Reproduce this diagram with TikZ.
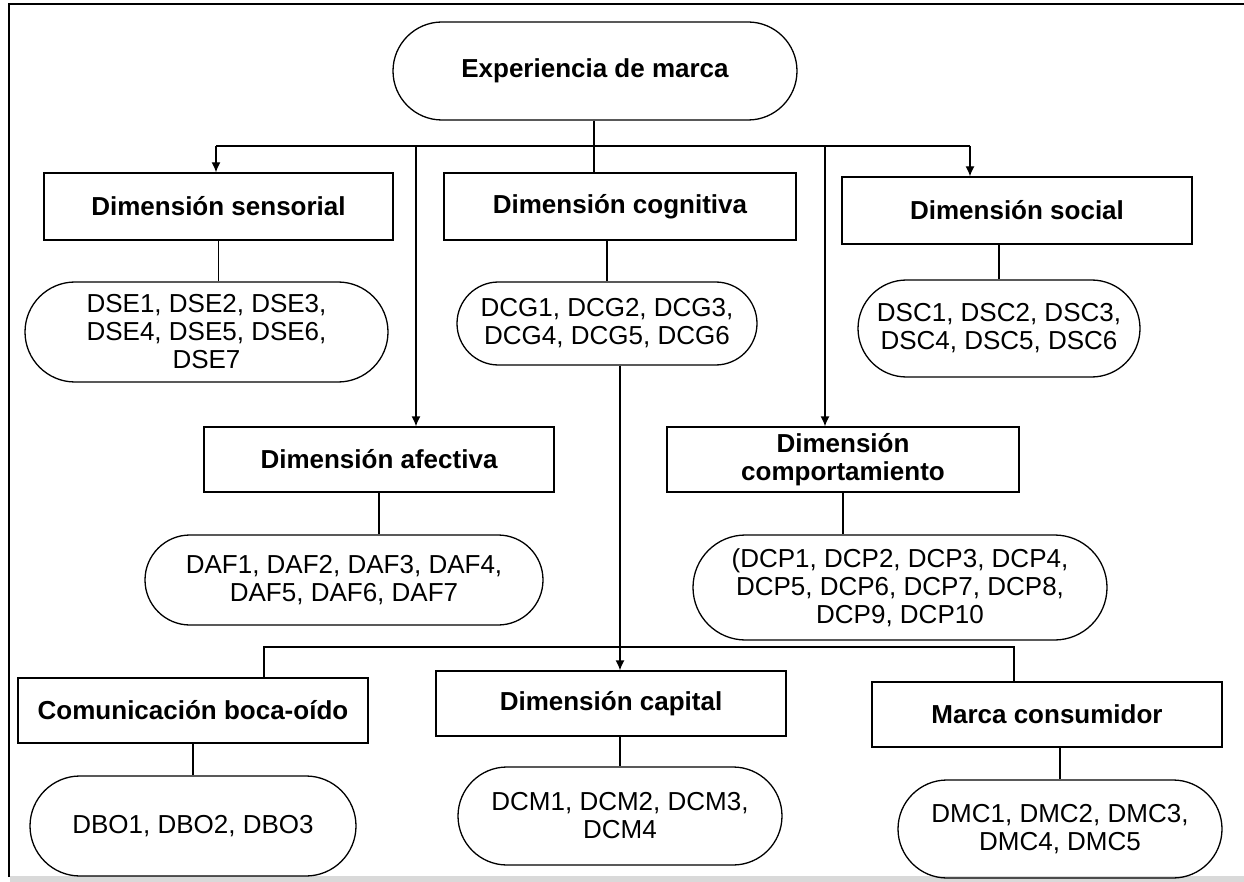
\documentclass[tikz,border=0pt]{standalone}
\usepackage{fontspec}
\setmainfont{Liberation Sans}
\usetikzlibrary{arrows.meta,shapes.misc}
\begin{document}
\begin{tikzpicture}[x=1pt,y=-1pt,line width=1.3pt,
  every node/.style={inner sep=0pt,font=\fontsize{26}{28}\selectfont},
  dim/.style={draw,align=center,font=\fontsize{26}{28}\selectfont\bfseries},
  ind/.style={draw,rounded rectangle,align=center},
  arr/.style={-{Latex[length=10pt,width=9pt]}}]
\useasboundingbox (0,0) rectangle (1244,882);
% frame
\fill [black!15] (10,876) rectangle (1244,882);
\draw [line width=2pt] (9,877) -- (9,4) -- (1244,4);
% root
\node [dim,rounded rectangle,minimum width=404pt,minimum height=98pt] (exp) at (595,71) {Experiencia de marca};
% first row
\node [dim,minimum width=349pt,minimum height=67pt] (sens) at (218.5,206.5) {Dimensión sensorial};
\node [dim,minimum width=352pt,minimum height=67pt] (cogn) at (620,206.5) {Dimensión cognitiva};
\node [dim,minimum width=350pt,minimum height=67pt] (soc) at (1017,210.5) {Dimensión social};
\node [ind,minimum width=363pt,minimum height=100pt] (sensi) at (206.5,332) {DSE1, DSE2, DSE3,\\DSE4, DSE5, DSE6,\\DSE7};
\node [ind,minimum width=300pt,minimum height=83pt] (cogni) at (607,323.5) {DCG1, DCG2, DCG3,\\DCG4, DCG5, DCG6};
\node [ind,minimum width=282pt,minimum height=97pt] (soci) at (999,328.5) {DSC1, DSC2, DSC3,\\DSC4, DSC5, DSC6};
% second row
\node [dim,minimum width=350pt,minimum height=65pt] (afec) at (379,459.5) {Dimensión afectiva};
\node [dim,minimum width=352pt,minimum height=65pt] (comp) at (843,459.5) {Dimensión\\comportamiento};
\node [ind,minimum width=398pt,minimum height=90pt] (afeci) at (344,580) {DAF1, DAF2, DAF3, DAF4,\\DAF5, DAF6, DAF7};
\node [ind,minimum width=414pt,minimum height=105pt] (compi) at (900,587.5) {(DCP1, DCP2, DCP3, DCP4,\\DCP5, DCP6, DCP7, DCP8,\\DCP9, DCP10};
% third row
\node [dim,minimum width=350pt,minimum height=65pt] (com) at (193,710.5) {Comunicación boca-oído};
\node [dim,minimum width=350pt,minimum height=65pt] (cap) at (611,703.5) {Dimensión capital};
\node [dim,minimum width=350pt,minimum height=65pt] (mc) at (1047,714.5) {Marca consumidor};
\node [ind,minimum width=326pt,minimum height=100pt] (comi) at (193,826) {DBO1, DBO2, DBO3};
\node [ind,minimum width=324pt,minimum height=98pt] (capi) at (620,816) {DCM1, DCM2, DCM3,\\DCM4};
\node [ind,minimum width=324pt,minimum height=98pt] (mci) at (1060,829) {DMC1, DMC2, DMC3,\\DMC4, DMC5};
% buses
\coordinate (bus) at (594,146);
\coordinate (busL) at (216,146);
\coordinate (busA) at (416,146);
\coordinate (busB) at (825,146);
\coordinate (busR) at (970,146);
\coordinate (lowL) at (264,647);
\coordinate (lowR) at (1014,647);
% connectors
\draw (exp.south -| bus) -- (bus);
\draw (busL) -- (busR);
\draw [arr] (busL) -- (busL |- sens.north);
\draw [arr] (busR) -- (busR |- soc.north);
\draw [arr] (busA) -- (busA |- afec.north);
\draw [arr] (busB) -- (busB |- comp.north);
\draw (bus) -- (bus |- cogn.north);
\draw (sens.south) -- (sens.south |- sensi.north);
\draw (cogni.north |- cogn.south) -- (cogni.north);
\draw (soci.north |- soc.south) -- (soci.north);
\draw (afec.south) -- (afec.south |- afeci.north);
\draw (comp.south) -- (comp.south |- compi.north);
\draw [arr] (capi.north |- cogni.south) -- (capi.north |- cap.north);
\draw (lowL |- com.north) -- (lowL) -- (lowR) -- (lowR |- mc.north);
\draw (com.south) -- (comi.north);
\draw (capi.north |- cap.south) -- (capi.north);
\draw (mci.north |- mc.south) -- (mci.north);
\end{tikzpicture}
\end{document}
